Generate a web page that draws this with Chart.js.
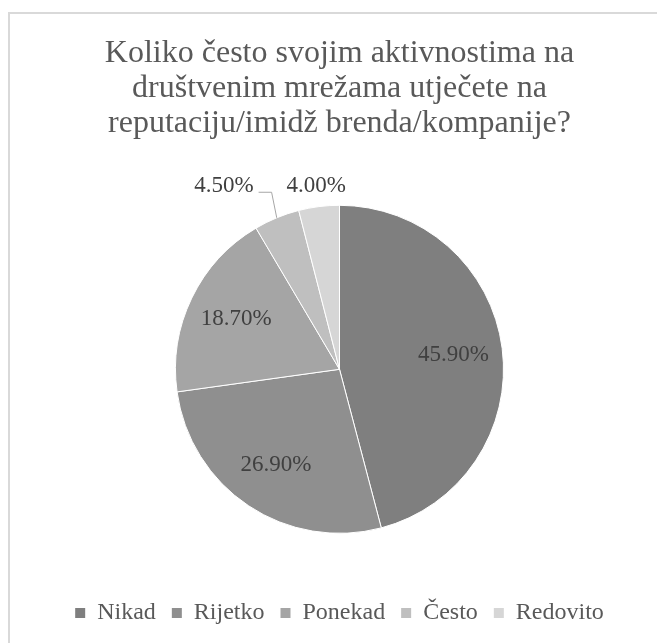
<!DOCTYPE html>
<html>
<head>
<meta charset="utf-8">
<script src="https://cdn.jsdelivr.net/npm/chart.js@4"></script>
<style>
  html, body { margin: 0; padding: 0; background: #ffffff; }
  #okvir {
    position: absolute; left: 8px; top: 12px; width: 700px; height: 700px;
    border-left: 2px solid #d9d9d9; border-top: 2px solid #d9d9d9;
  }
  #grafikon { position: absolute; left: 0; top: 0; }
</style>
</head>
<body>
<div id="okvir"></div>
<canvas id="grafikon" width="657" height="643"></canvas>
<script>
// === Podaci ankete ===
const naslov = [
  "Koliko često svojim aktivnostima na",
  "društvenim mrežama utječete na",
  "reputaciju/imidž brenda/kompanije?"
];
const kategorije = ["Nikad", "Rijetko", "Ponekad", "Često", "Redovito"];
const postoci = [45.9, 26.9, 18.7, 4.5, 4.0];

// === Boje (sive nijanse kao u Excelu) ===
const boje = ["#7f7f7f", "#8f8f8f", "#a5a5a5", "#bfbfbf", "#d6d6d6"];
const font = "'Liberation Serif', 'Times New Roman', serif";

// === Oznake postotaka: unutar kriške ili vani uz liniju ===
const oznakePostotaka = {
  id: "oznakePostotaka",
  afterDatasetsDraw(chart) {
    const ctx = chart.ctx;
    const meta = chart.getDatasetMeta(0);
    const vrijednosti = chart.data.datasets[0].data;

    ctx.save();
    ctx.font = "23px " + font;
    ctx.fillStyle = "#404040";
    ctx.textAlign = "center";
    ctx.textBaseline = "middle";

    const vani = [];
    meta.data.forEach((arc, i) => {
      const p = arc.getProps(["x", "y", "startAngle", "endAngle", "outerRadius"], true);
      const sredina = (p.startAngle + p.endAngle) / 2;
      const tekst = vrijednosti[i].toFixed(2) + "%";
      if (vrijednosti[i] >= 10) {
        const r = p.outerRadius * 0.7;
        ctx.fillText(tekst, p.x + Math.cos(sredina) * r, p.y + Math.sin(sredina) * r);
      } else {
        vani.push({ tekst, sredina, ...p });
      }
    });

    // vanjske oznake slažemo zdesna nalijevo da se ne preklapaju
    let granica = Infinity;
    let zadnjiY = null;
    vani.reverse().forEach(o => {
      const w = ctx.measureText(o.tekst).width;
      const r = o.outerRadius + 21;
      let lx = o.x + Math.cos(o.sredina) * r;
      let ly = o.y + Math.sin(o.sredina) * r;
      let pomaknuto = false;
      if (lx + w / 2 + 33 > granica) {
        lx = granica - 33 - w / 2;
        ly = zadnjiY;
        pomaknuto = true;
      }
      ctx.fillText(o.tekst, lx, ly);

      if (pomaknuto) {
        const rubX = o.x + Math.cos(o.sredina) * o.outerRadius;
        const rubY = o.y + Math.sin(o.sredina) * o.outerRadius;
        const x0 = lx + w / 2 + 5;
        ctx.beginPath();
        ctx.strokeStyle = "#a6a6a6";
        ctx.lineWidth = 1;
        ctx.moveTo(x0, ly + 6.5);
        ctx.lineTo(x0 + 13, ly + 6.5);
        ctx.lineTo(rubX, rubY);
        ctx.stroke();
      }
      granica = lx - w / 2;
      zadnjiY = ly;
    });
    ctx.restore();
  }
};

// === Kružni grafikon ===
new Chart(document.getElementById("grafikon"), {
  type: "pie",
  data: {
    labels: kategorije,
    datasets: [{
      data: postoci,
      backgroundColor: boje,
      borderColor: "#ffffff",
      borderWidth: 1,
      radius: 164
    }]
  },
  options: {
    responsive: false,
    animation: false,
    devicePixelRatio: 1,
    layout: { padding: { left: 22, right: 0, top: 0, bottom: 8 } },
    plugins: {
      tooltip: { enabled: false },
      title: {
        display: true,
        text: naslov,
        color: "#595959",
        font: { family: font, size: 32, weight: "normal", lineHeight: 1.1 },
        padding: { top: 36, bottom: 12 }
      },
      legend: {
        position: "bottom",
        labels: {
          color: "#595959",
          font: { family: font, size: 24 },
          boxWidth: 10,
          boxHeight: 10,
          padding: 16,
          // kvadratići bez bijelog obruba
          generateLabels: (chart) =>
            Chart.overrides.pie.plugins.legend.labels.generateLabels(chart)
              .map(l => ({ ...l, lineWidth: 0 }))
        }
      }
    }
  },
  plugins: [oznakePostotaka]
});
</script>
</body>
</html>
